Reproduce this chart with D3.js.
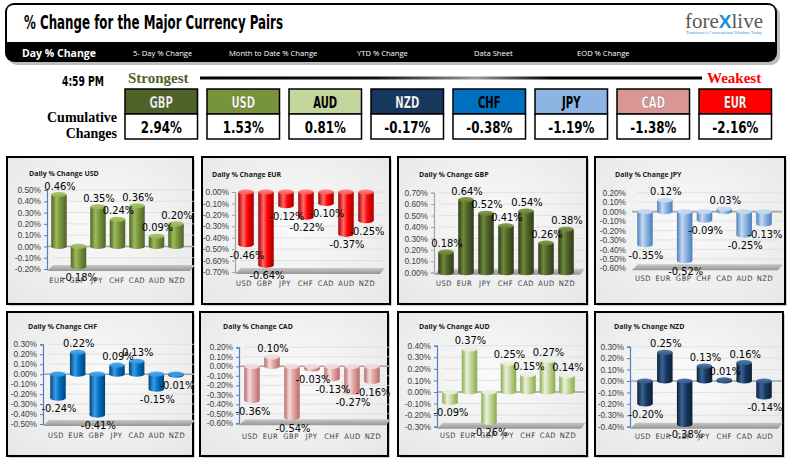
<!DOCTYPE html>
<html><head><meta charset="utf-8">
<script src="https://cdn.jsdelivr.net/npm/d3@7"></script>
<style>body{margin:0;background:#fff;} svg{display:block}</style>
</head><body>
<svg id="c" width="792" height="464"></svg>
<script>
// ---------------- DATA ----------------
const pageTitle = "% Change for the Major Currency Pairs";
const menuItems = ["Day % Change","5- Day % Change","Month to Date % Change","YTD % Change","Data Sheet","EOD % Change"];
const timeLabel = "4:59 PM";
const strengthCurrencies = ["GBP","USD","AUD","NZD","CHF","JPY","CAD","EUR"];
const cumulativeChanges = [2.94,1.53,0.81,-0.17,-0.38,-1.19,-1.38,-2.16];

const usdCategories = ["EUR","GBP","JPY","CHF","CAD","AUD","NZD"];
const usdValues = [0.46,-0.18,0.35,0.24,0.36,0.09,0.20];
const usdAxis = [-0.2, 0.5];
const eurCategories = ["USD","GBP","JPY","CHF","CAD","AUD","NZD"];
const eurValues = [-0.46,-0.64,-0.12,-0.22,-0.10,-0.37,-0.25];
const eurAxis = [-0.7, 0];
const gbpCategories = ["USD","EUR","JPY","CHF","CAD","AUD","NZD"];
const gbpValues = [0.18,0.64,0.52,0.41,0.54,0.26,0.38];
const gbpAxis = [0, 0.7];
const jpyCategories = ["USD","EUR","GBP","CHF","CAD","AUD","NZD"];
const jpyValues = [-0.35,0.12,-0.52,-0.09,0.03,-0.25,-0.13];
const jpyAxis = [-0.6, 0.2];
const chfCategories = ["USD","EUR","GBP","JPY","CAD","AUD","NZD"];
const chfValues = [-0.24,0.22,-0.41,0.09,0.13,-0.15,-0.01];
const chfAxis = [-0.5, 0.3];
const cadCategories = ["USD","EUR","GBP","JPY","CHF","AUD","NZD"];
const cadValues = [-0.36,0.10,-0.54,-0.03,-0.13,-0.27,-0.16];
const cadAxis = [-0.6, 0.2];
const audCategories = ["USD","EUR","GBP","JPY","CHF","CAD","NZD"];
const audValues = [-0.09,0.37,-0.26,0.25,0.15,0.27,0.14];
const audAxis = [-0.3, 0.4];
const nzdCategories = ["USD","EUR","GBP","JPY","CHF","CAD","AUD"];
const nzdValues = [-0.20,0.25,-0.38,0.13,0.01,0.16,-0.14];
const nzdAxis = [-0.4, 0.3];

// ---------------- STYLE / LAYOUT ----------------
const NARROW = "'Liberation Sans Narrow','Arial Narrow','DejaVu Sans Condensed',sans-serif";
const SANS = "'Liberation Sans',Arial,sans-serif";
const SERIF = "'Liberation Serif','Times New Roman',serif";

const boxColors = ["#4F6228","#77933C","#C3D69B","#17375E","#0070C0","#8DB4E2","#DA9694","#FF0000"];
const boxTextColors = ["#f2f2f2","#ffffff","#000000","#ffffff","#000000","#000000","#ffffff","#ffffff"];

const panels = [
  {cur:"USD", cats:usdCategories, vals:usdValues, dom:usdAxis, box:[7,157,193,304], tx:29, ty:176, ax:47, yt:190, yb:269, x0:59, x1:176, cy:283, col:["#4F6228","#9BBB59","#77933C"], axisCol:"#4F81BD"},
  {cur:"EUR", cats:eurCategories, vals:eurValues, dom:eurAxis, box:[202,157,390,304], tx:212, ty:177, ax:235, yt:192, yb:272, x0:246, x1:366, cy:286, col:["#A00000","#FF6A6A","#FF0000"], axisCol:"#a6a6a6"},
  {cur:"GBP", cats:gbpCategories, vals:gbpValues, dom:gbpAxis, box:[398,157,587,304], tx:419, ty:177, ax:434, yt:192.7, yb:272.7, x0:446, x1:566, cy:286, col:["#2f3b17","#6f8a3a","#4F6228"], axisCol:"#a6a6a6"},
  {cur:"JPY", cats:jpyCategories, vals:jpyValues, dom:jpyAxis, box:[595,157,785,304], tx:615, ty:177, ax:632, yt:192.7, yb:268.3, x0:645, x1:764, cy:281, col:["#4A7EBB","#C6D9F1","#8DB4E2"], axisCol:"none"},
  {cur:"CHF", cats:chfCategories, vals:chfValues, dom:chfAxis, box:[7,312,193,456], tx:28, ty:329, ax:43, yt:344.3, yb:424, x0:58, x1:176, cy:438, col:["#00457a","#3a9be6","#0070C0"], axisCol:"#4F81BD"},
  {cur:"CAD", cats:cadCategories, vals:cadValues, dom:cadAxis, box:[200,312,388,456], tx:223, ty:329, ax:239, yt:347.3, yb:423.3, x0:252, x1:372, cy:439, col:["#b96a68","#F2DCDB","#E0A5A3"], axisCol:"#4F81BD"},
  {cur:"AUD", cats:audCategories, vals:audValues, dom:audAxis, box:[398,312,587,456], tx:419, ty:329, ax:437, yt:345.7, yb:426.7, x0:450, x1:567, cy:438, col:["#8aab4a","#EBF1DE","#C3D69B"], axisCol:"#4F81BD"},
  {cur:"NZD", cats:nzdCategories, vals:nzdValues, dom:nzdAxis, box:[595,312,783,456], tx:614, ty:329, ax:630, yt:346.7, yb:426.7, x0:645, x1:764, cy:439, col:["#0c1f36","#3a6596","#17375E"], axisCol:"#4F81BD"}
];

const svg = d3.select("#c");
const defs = svg.append("defs");

function condense(sel, k) {
  sel.each(function(){
    const w = this.getComputedTextLength();
    d3.select(this).attr("textLength", (w*k).toFixed(1)).attr("lengthAdjust","spacingAndGlyphs");
  });
}

// ---------------- HEADER ----------------
svg.append("rect").attr("x",8).attr("y",6).attr("width",772).attr("height",59).attr("rx",9).attr("fill","#bdbdbd");
svg.append("rect").attr("x",5).attr("y",3).attr("width",772).attr("height",59).attr("rx",9).attr("fill","#000");
svg.append("path").attr("d","M7,42 L7,12 Q7,5 14,5 L768,5 Q775,5 775,12 L775,42 Z").attr("fill","#fff");
svg.append("text").attr("x",24).attr("y",29).text(pageTitle)
  .attr("font-family",NARROW).attr("font-weight","bold").attr("font-size",19)
  .attr("textLength",259).attr("lengthAdjust","spacingAndGlyphs").attr("fill","#000");

const menuX = [22,133,229,357,474,577];
svg.selectAll("text.menu").data(menuItems).join("text").attr("class","menu")
  .attr("x",(d,i)=>menuX[i]).attr("y",(d,i)=>i===0?57:56)
  .attr("font-family","'Open Sans',sans-serif")
  .attr("font-weight",(d,i)=>i===0?"bold":"normal")
  .attr("font-size",(d,i)=>i===0?10.5:7.6)
  .attr("fill","#fff").text(d=>d);

// logo
const logo = svg.append("text").attr("x",685).attr("y",28).attr("font-family",SERIF).attr("font-size",21);
logo.append("tspan").attr("fill","#5a5a5a").text("fore");
logo.append("tspan").attr("fill","#1c8fd8").attr("font-family",SANS).attr("font-weight","bold").attr("font-size",19).text("X");
logo.append("tspan").attr("fill","#5a5a5a").text("live");
svg.append("text").attr("x",686).attr("y",34).attr("font-family",SERIF).attr("font-size",4)
  .attr("fill","#3f8fcf").attr("textLength",76).attr("lengthAdjust","spacingAndGlyphs")
  .text("Tomorrow's Conventional Wisdom Today");

// ---------------- STRENGTH ROW ----------------
svg.append("text").attr("x",62).attr("y",86).text(timeLabel)
  .attr("font-family",NARROW).attr("font-weight","bold").attr("font-size",14).attr("fill","#000")
  .attr("textLength",42).attr("lengthAdjust","spacingAndGlyphs");
svg.append("text").attr("x",128).attr("y",83).text("Strongest")
  .attr("font-family",SERIF).attr("font-weight","bold").attr("font-size",15).attr("fill","#4F6228");
svg.append("text").attr("x",707).attr("y",83).text("Weakest")
  .attr("font-family",SERIF).attr("font-weight","bold").attr("font-size",15).attr("fill","#FF0000");
const lg = defs.append("linearGradient").attr("id","lineG");
lg.append("stop").attr("offset","0").attr("stop-color","#000");
lg.append("stop").attr("offset","0.35").attr("stop-color","#111");
lg.append("stop").attr("offset","0.55").attr("stop-color","#9a9a9a");
lg.append("stop").attr("offset","0.7").attr("stop-color","#000");
lg.append("stop").attr("offset","1").attr("stop-color","#000");
svg.append("rect").attr("x",200).attr("y",76.5).attr("width",502).attr("height",3).attr("fill","url(#lineG)");

svg.append("text").attr("x",117).attr("y",122).attr("text-anchor","end").text("Cumulative")
  .attr("font-family",SERIF).attr("font-weight","bold").attr("font-size",14).attr("fill","#000");
svg.append("text").attr("x",117).attr("y",138).attr("text-anchor","end").text("Changes")
  .attr("font-family",SERIF).attr("font-weight","bold").attr("font-size",14).attr("fill","#000");

const bx = d3.scalePoint().domain(strengthCurrencies).range([125,699]);
const boxes = svg.selectAll("g.box").data(strengthCurrencies.map((c,i)=>({c,v:cumulativeChanges[i],i})))
  .join("g").attr("class","box").attr("transform",d=>`translate(${bx(d.c)},89)`);
boxes.append("rect").attr("width",72.5).attr("height",25).attr("fill",d=>boxColors[d.i]).attr("stroke","#000").attr("stroke-width",1.5);
boxes.append("rect").attr("y",25).attr("width",72.5).attr("height",25).attr("fill","#fff").attr("stroke","#000").attr("stroke-width",1.5);
boxes.append("text").attr("x",36.25).attr("y",18.5).attr("text-anchor","middle")
  .attr("font-family",NARROW).attr("font-weight","bold").attr("font-size",15.5)
  .attr("fill",d=>boxTextColors[d.i])
  .attr("stroke",d=>boxTextColors[d.i]==="#000000"?"none":"rgba(0,0,0,0.45)").attr("stroke-width",0.5)
  .text(d=>d.c).call(condense, 0.72);
boxes.append("text").attr("x",36.25).attr("y",43.5).attr("text-anchor","middle")
  .attr("font-family",NARROW).attr("font-weight","bold").attr("font-size",15.5).attr("fill","#000")
  .text(d=>d.v.toFixed(2)+"%").call(condense, 0.85);

// ---------------- PANELS ----------------
const bgG = defs.append("radialGradient").attr("id","panelBg").attr("cx","0.5").attr("cy","0.45").attr("r","0.75");
bgG.append("stop").attr("offset","0").attr("stop-color","#fbfbfb");
bgG.append("stop").attr("offset","1").attr("stop-color","#e6e6e6");
const flG = defs.append("linearGradient").attr("id","floorG").attr("x1",0).attr("x2",0).attr("y1",0).attr("y2",1);
flG.append("stop").attr("offset","0").attr("stop-color","#c8c8c8");
flG.append("stop").attr("offset","1").attr("stop-color","#959595");

const fmt = v => v.toFixed(2)+"%";
const bw = 15.5, ery = 2.6;

panels.forEach((p,pi)=>{
  const g = svg.append("g");
  const [bx0,by0,bx1,by1] = p.box;
  g.append("rect").attr("x",bx0+2).attr("y",by0+2).attr("width",bx1-bx0).attr("height",by1-by0).attr("fill","#cfcfcf");
  g.append("rect").attr("x",bx0).attr("y",by0).attr("width",bx1-bx0).attr("height",by1-by0)
    .attr("fill","url(#panelBg)").attr("stroke","#000").attr("stroke-width",2);

  const gid = "bar"+pi;
  const gr = defs.append("linearGradient").attr("id",gid).attr("x1",0).attr("x2",1).attr("y1",0).attr("y2",0);
  gr.append("stop").attr("offset","0").attr("stop-color",p.col[0]);
  gr.append("stop").attr("offset","0.33").attr("stop-color",p.col[1]);
  gr.append("stop").attr("offset","0.6").attr("stop-color",p.col[2]);
  gr.append("stop").attr("offset","1").attr("stop-color",p.col[0]);

  g.append("text").attr("x",p.tx).attr("y",p.ty).text("Daily % Change "+p.cur)
    .attr("font-family","'Open Sans',sans-serif").attr("font-weight","bold").attr("font-size",7).attr("fill","#1a1a1a");

  const y = d3.scaleLinear().domain(p.dom).range([p.yb,p.yt]);
  const x = d3.scalePoint().domain(p.cats).range([p.x0,p.x1]);
  const ticks = d3.range(Math.round(p.dom[0]*10), Math.round(p.dom[1]*10)+1).map(i=>i/10);
  const right = p.x1 + 15;

  g.append("polygon").attr("points",[[p.ax+6,p.yb-4],[right+4,p.yb-4],[right-1,p.yb+2],[p.ax,p.yb+2]].map(d=>d.join(",")).join(" "))
    .attr("fill","url(#floorG)");
  g.selectAll("line.grid").data(ticks.slice(1)).join("line").attr("class","grid")
    .attr("x1",p.ax+5).attr("x2",right+3).attr("y1",d=>y(d)).attr("y2",d=>y(d))
    .attr("stroke","#dcdcdc").attr("stroke-width",0.8);
  if (p.dom[0] < 0 && p.dom[1] > 0) {
    g.append("line").attr("x1",p.ax).attr("x2",right+3).attr("y1",y(0)).attr("y2",y(0))
      .attr("stroke","#a6a6a6").attr("stroke-width",1.6);
  }
  const axis = d3.axisLeft(y).tickValues(ticks).tickFormat(fmt).tickSize(3).tickPadding(3);
  const ag = g.append("g").attr("transform",`translate(${p.ax},0)`).call(axis);
  ag.select(".domain").attr("stroke",p.axisCol).attr("stroke-width",1.2);
  ag.selectAll(".tick line").attr("stroke",p.axisCol==="none"?"none":p.axisCol);
  ag.selectAll(".tick text").attr("font-family",SANS).attr("font-size",8.3).attr("fill","#404040");

  const data = p.cats.map((c,i)=>({c,v:p.vals[i],i}));
  const bars = g.selectAll("g.bar").data(data).join("g").attr("class","bar");
  bars.each(function(d){
    const s = d3.select(this);
    const cx = x(d.c), y0 = y(0), yv = y(d.v);
    const top = Math.min(y0,yv), bot = Math.max(y0,yv);
    s.append("ellipse").attr("cx",cx).attr("cy",bot).attr("rx",bw/2).attr("ry",ery).attr("fill",`url(#${gid})`);
    s.append("rect").attr("x",cx-bw/2).attr("y",top).attr("width",bw).attr("height",bot-top).attr("fill",`url(#${gid})`);
    s.append("ellipse").attr("cx",cx).attr("cy",top).attr("rx",bw/2).attr("ry",ery).attr("fill",p.col[1]).attr("opacity",0.9);
  });
  g.selectAll("text.lab").data(data).join("text").attr("class","lab")
    .attr("x",d=>x(d.c)+1).attr("y",d=>d.v>=0 ? y(d.v)-5 : y(d.v)+14)
    .attr("text-anchor","middle").attr("font-family",NARROW).attr("font-size",11).attr("fill","#000")
    .text(d=>fmt(d.v));
  g.selectAll("text.cat").data(data).join("text").attr("class","cat")
    .attr("x",d=>x(d.c)-2+d.i*0.5).attr("y",p.cy)
    .attr("text-anchor","middle").attr("font-family",NARROW).attr("font-size",7.5)
    .attr("letter-spacing",0.6).attr("fill","#404040").text(d=>d.c);
});
</script>
</body></html>
